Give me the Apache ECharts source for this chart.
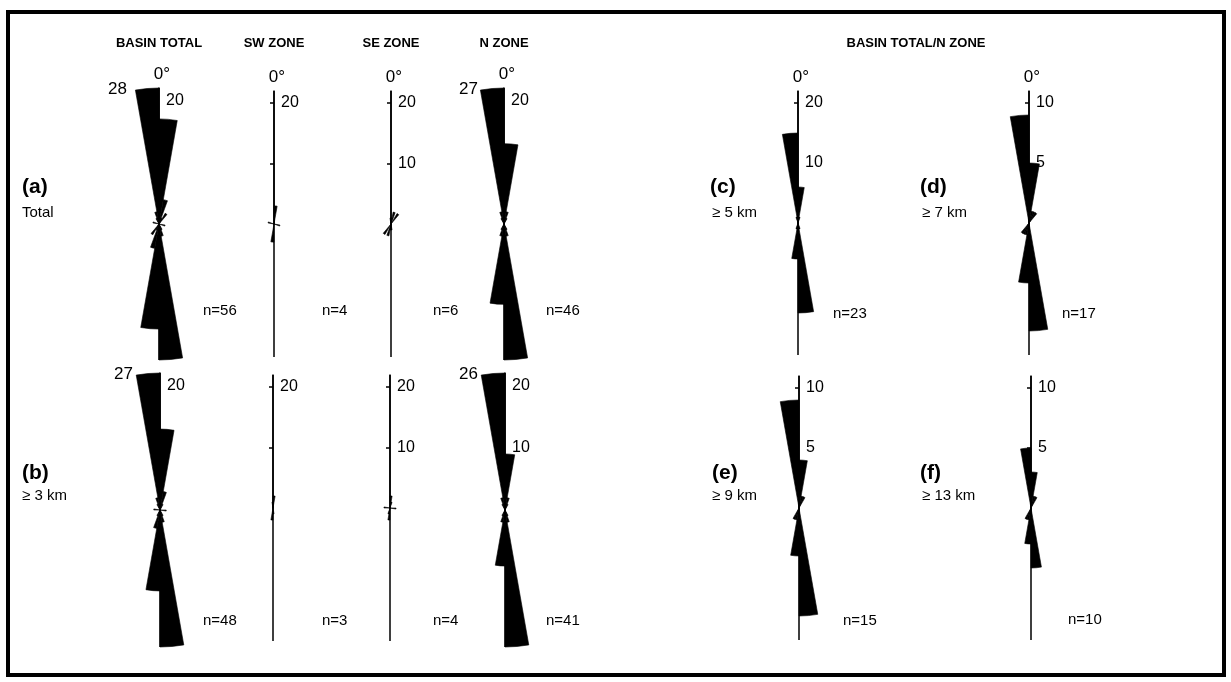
<!DOCTYPE html>
<html>
<head>
<meta charset="utf-8">
<script src="https://cdn.jsdelivr.net/npm/echarts@6/dist/echarts.min.js"></script>
<style>
  html, body { margin: 0; padding: 0; background: #fff; }
  #chart { width: 1231px; height: 682px; }
</style>
</head>
<body>
<div id="chart"></div>
<script>
// 10-degree bins, 0-180 (axial data, mirrored to 180-360 when drawn)
var binNames = [];
for (var b = 0; b < 36; b++) { binNames.push((b * 10) + '-' + (b * 10 + 10)); }

// counts per bin: index 0 = 0-10, 1 = 10-20, ... 17 = 170-180
var basinTotalA = [17, 4, 1, 2, 0, 0, 0, 0, 0, 0, 1, 0, 0, 0, 0, 1, 2, 28];
var swZoneA     = [3, 0, 0, 0, 0, 0, 0, 0, 0, 0, 1, 0, 0, 0, 0, 0, 0, 0];
var seZoneA     = [1, 2, 0, 2, 0, 0, 0, 0, 0, 0, 0, 0, 0, 0, 0, 0, 0, 1];
var nZoneA      = [13, 2, 1, 0, 0, 0, 0, 0, 0, 0, 0, 0, 0, 0, 0, 1, 2, 27];
var basinTotalB = [13, 3, 1, 0, 0, 0, 0, 0, 0, 1, 0, 0, 0, 0, 0, 1, 2, 27];
var swZoneB     = [2, 0, 0, 0, 0, 0, 0, 0, 0, 0, 0, 0, 0, 0, 0, 0, 0, 1];
var seZoneB     = [2, 1, 0, 0, 0, 0, 0, 0, 0, 1, 0, 0, 0, 0, 0, 0, 0, 0];
var nZoneB      = [9, 2, 1, 0, 0, 0, 0, 0, 0, 0, 0, 0, 0, 0, 0, 1, 2, 26];
var over5km     = [6, 1, 0, 0, 0, 0, 0, 0, 0, 0, 0, 0, 0, 0, 0, 0, 1, 15];
var over7km     = [5, 1, 1, 1, 0, 0, 0, 0, 0, 0, 0, 0, 0, 0, 0, 0, 0, 9];
var over9km     = [4, 1, 1, 0, 0, 0, 0, 0, 0, 0, 0, 0, 0, 0, 0, 0, 0, 9];
var over13km    = [3, 1, 1, 0, 0, 0, 0, 0, 0, 0, 0, 0, 0, 0, 0, 0, 0, 5];

var nValues = [56, 4, 6, 46, 48, 3, 4, 41, 23, 17, 15, 10];

var FONT = "'Liberation Sans', Arial, sans-serif";

function mirror(arr) { return arr.concat(arr); }

var panels = [
  { data: basinTotalA, cx: 159, cy: 224, r: 136, max: 22, step: 10, labels: [20], zero: true },
  { data: swZoneA,     cx: 274, cy: 224, r: 133, max: 22, step: 10, labels: [20], zero: true },
  { data: seZoneA,     cx: 391, cy: 224, r: 133, max: 22, step: 10, labels: [10, 20], zero: true },
  { data: nZoneA,      cx: 504, cy: 224, r: 136, max: 22, step: 10, labels: [20], zero: true },
  { data: basinTotalB, cx: 160, cy: 510, r: 137, max: 22, step: 10, labels: [20] },
  { data: swZoneB,     cx: 273, cy: 508, r: 133, max: 22, step: 10, labels: [20] },
  { data: seZoneB,     cx: 390, cy: 508, r: 133, max: 22, step: 10, labels: [10, 20] },
  { data: nZoneB,      cx: 505, cy: 510, r: 137, max: 22, step: 10, labels: [10, 20] },
  { data: over5km,     cx: 798, cy: 223, r: 132, max: 22, step: 10, labels: [10, 20], zero: true },
  { data: over7km,     cx: 1029, cy: 223, r: 132, max: 11, step: 5, labels: [5, 10], zero: true },
  { data: over9km,     cx: 799, cy: 508, r: 132, max: 11, step: 5, labels: [5, 10] },
  { data: over13km,    cx: 1031, cy: 508, r: 132, max: 11, step: 5, labels: [5, 10] }
];

var polar = [], angleAxis = [], radiusAxis = [], series = [];
panels.forEach(function (p, i) {
  polar.push({ center: [p.cx, p.cy], radius: p.r });
  angleAxis.push({
    polarIndex: i, type: 'category', data: binNames, boundaryGap: true,
    startAngle: 90, clockwise: true,
    axisLine: { show: false }, axisLabel: { show: false },
    axisTick: { show: false, interval: function (idx) { return idx % 18 === 0; } },
    splitLine: { show: true, lineStyle: { color: '#000', width: 1.5 } }
  });
  radiusAxis.push({
    polarIndex: i, type: 'value', min: 0, max: p.max, interval: p.step,
    axisLine: { lineStyle: { color: '#000', width: 1.5 } },
    axisTick: { inside: true, length: 4, customValues: [p.step, p.step * 2], lineStyle: { color: '#000', width: 1.5 } },
    axisLabel: { customValues: p.labels, margin: -7, align: 'left', verticalAlign: 'middle',
                 color: '#000', fontSize: 16, fontFamily: FONT },
    splitLine: { show: false },
    name: p.zero ? '0\u00b0' : '', nameLocation: 'end', nameGap: 5,
    nameTextStyle: { color: '#000', fontSize: 17, fontFamily: FONT, padding: [0, 0, 0, 6] }
  });
  series.push({
    type: 'bar', coordinateSystem: 'polar', polarIndex: i,
    data: mirror(p.data), barCategoryGap: '0%', barGap: '0%', clip: true,
    itemStyle: { color: '#000', borderColor: '#000', borderWidth: 0.6 },
    silent: true
  });
});

function txt(x, y, s, size, bold, align) {
  return { type: 'text', x: x, y: y, silent: true,
    style: { text: s, fill: '#000', font: (bold ? 'bold ' : '') + size + 'px ' + FONT,
             textAlign: align || 'left', textVerticalAlign: 'middle' } };
}

var nPos = [[203, 311], [322, 311], [433, 311], [546, 311], [203, 621], [322, 621], [433, 621], [546, 621],
            [833, 314], [1062, 314], [843, 621], [1068, 620]];

var graphics = [
  { type: 'rect', shape: { x: 8, y: 12, width: 1216, height: 663 },
    style: { fill: 'none', stroke: '#000', lineWidth: 4 }, silent: true },
  txt(159, 43, 'BASIN TOTAL', 13, true, 'center'),
  txt(274, 43, 'SW ZONE', 13, true, 'center'),
  txt(391, 43, 'SE ZONE', 13, true, 'center'),
  txt(504, 43, 'N ZONE', 13, true, 'center'),
  txt(916, 43, 'BASIN TOTAL/N ZONE', 13, true, 'center'),
  txt(22, 187, '(a)', 21, true), txt(22, 213, 'Total', 15, false),
  txt(22, 473, '(b)', 21, true), txt(22, 496, '\u2265 3 km', 15, false),
  txt(710, 187, '(c)', 21, true), txt(712, 213, '\u2265 5 km', 15, false),
  txt(920, 187, '(d)', 21, true), txt(922, 213, '\u2265 7 km', 15, false),
  txt(712, 473, '(e)', 21, true), txt(712, 496, '\u2265 9 km', 15, false),
  txt(920, 473, '(f)', 21, true), txt(922, 496, '\u2265 13 km', 15, false),
  // counts of the bars cut off by the plot edge
  txt(127, 89, String(basinTotalA[17]), 17, false, 'right'),
  txt(133, 374, String(basinTotalB[17]), 17, false, 'right'),
  txt(478, 89, String(nZoneA[17]), 17, false, 'right'),
  txt(478, 374, String(nZoneB[17]), 17, false, 'right')
];
nPos.forEach(function (pos, i) { graphics.push(txt(pos[0], pos[1], 'n=' + nValues[i], 15, false)); });

var myChart = echarts.init(document.getElementById('chart'));
myChart.setOption({
  animation: false,
  backgroundColor: '#fff',
  polar: polar,
  angleAxis: angleAxis,
  radiusAxis: radiusAxis,
  series: series,
  graphic: graphics
});
</script>
</body>
</html>
